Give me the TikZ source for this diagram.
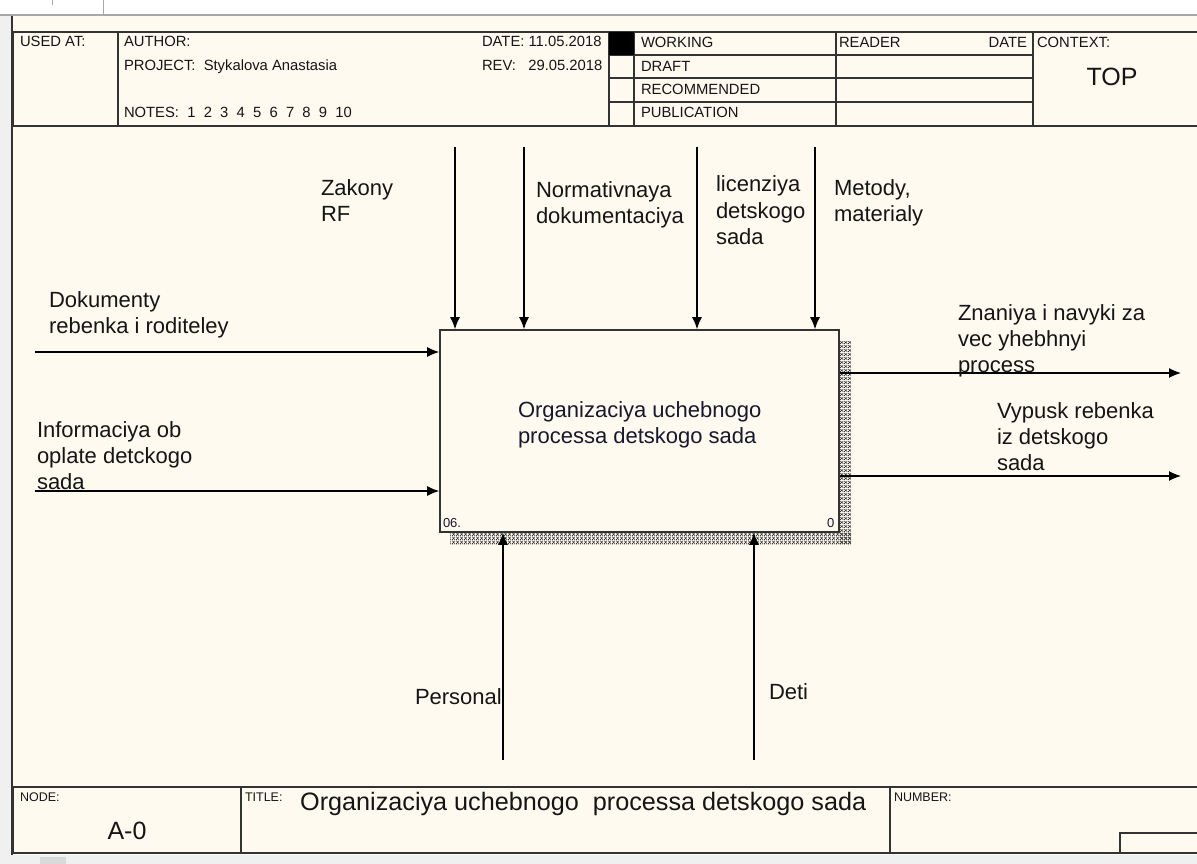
\documentclass[tikz,border=0pt]{standalone}
\usepackage{fontspec}
\setmainfont{Liberation Sans}
\usetikzlibrary{arrows.meta,patterns}
\definecolor{cream}{HTML}{FFFAF0}
\definecolor{chrome}{HTML}{F0F0F0}
\definecolor{chromeline}{HTML}{A8A8A8}
\definecolor{framec}{HTML}{333333}
\definecolor{txt}{HTML}{151515}
\definecolor{boxtxt}{HTML}{18182C}
\pgfdeclarepatternformonly{idefhatch}{\pgfpointorigin}{\pgfpoint{4pt}{4pt}}{\pgfpoint{4pt}{4pt}}{%
  \pgfpathrectangle{\pgfpoint{0pt}{0pt}}{\pgfpoint{1pt}{1pt}}%
  \pgfpathrectangle{\pgfpoint{1pt}{1pt}}{\pgfpoint{1pt}{1pt}}%
  \pgfpathrectangle{\pgfpoint{2pt}{2pt}}{\pgfpoint{1pt}{1pt}}%
  \pgfpathrectangle{\pgfpoint{3pt}{3pt}}{\pgfpoint{1pt}{1pt}}%
  \pgfpathrectangle{\pgfpoint{0pt}{3pt}}{\pgfpoint{1pt}{1pt}}%
  \pgfpathrectangle{\pgfpoint{1pt}{2pt}}{\pgfpoint{1pt}{1pt}}%
  \pgfpathrectangle{\pgfpoint{2pt}{1pt}}{\pgfpoint{1pt}{1pt}}%
  \pgfpathrectangle{\pgfpoint{3pt}{0pt}}{\pgfpoint{1pt}{1pt}}%
  \pgfusepath{fill}}
\newcommand\lblfont{\fontsize{22}{26}\selectfont}
\newcommand\hdrfont{\fontsize{14.8}{17}\selectfont}
\newcommand\smallfont{\fontsize{12.5}{14}\selectfont}
\newcommand\reffont{\fontsize{13}{15}\selectfont}
\newcommand\bigfont{\fontsize{25}{29}\selectfont}
\newcommand\titlefont{\fontsize{25.2}{29}\selectfont}
\newcommand\ml[1]{\begin{tabular}[t]{@{}l@{}}#1\end{tabular}}
\begin{document}
\begin{tikzpicture}[x=1pt,y=-1pt,
  frameline/.style={draw=framec,line width=1.6pt},
  cellline/.style={draw=framec,line width=1.4pt},
  arr/.style={draw=black,line width=1.3pt,-{Latex[length=12pt,width=10pt]}},
  lbl/.style={anchor=base west,inner sep=0pt,outer sep=0pt,font=\lblfont,text=txt},
  hdr/.style={anchor=base west,inner sep=0pt,outer sep=0pt,font=\hdrfont,text=txt},
  tinylbl/.style={anchor=base west,inner sep=0pt,outer sep=0pt,font=\smallfont,text=txt},
  reflbl/.style={anchor=base west,inner sep=0pt,outer sep=0pt,font=\reffont,text=boxtxt},
  shadow/.style={pattern=idefhatch,pattern color=black!80}]
\useasboundingbox (0,0) rectangle (1197,864);
% window chrome and sheet
\fill[chrome] (0,0) rectangle (1197,864);
\fill[white] (0,0) rectangle (1197,14);
\fill[cream] (11,16) rectangle (1197,855);
\draw[chromeline,line width=1.5pt] (0,15) -- (1197,15);
\draw[chromeline,line width=1pt] (52,0) -- (52,5);
\draw[chromeline,line width=1pt] (103,0) -- (103,14);
\fill[black!15] (40,857) rectangle (66,864);
\draw[frameline] (12,16) -- (12,855);
% header
\draw[frameline] (13,32) rectangle (1205,126);
\draw[cellline] (118,32) -- (118,126);
\draw[cellline] (609,32) -- (609,126);
\draw[cellline] (634,32) -- (634,126);
\draw[cellline] (836,32) -- (836,126);
\draw[cellline] (1033,32) -- (1033,126);
\draw[cellline] (609,55) -- (1033,55);
\draw[cellline] (609,78) -- (1033,78);
\draw[cellline] (609,102) -- (1033,102);
\fill[black] (609,32) rectangle (634,55);
\node[hdr] (usedat) at (20,47) {USED AT:};
\node[hdr] (author) at (124,47) {AUTHOR:};
\node[hdr] (project) at (124,71) {PROJECT:\ \ Stykalova Anastasia};
\node[hdr] (notes) at (124,118) {NOTES:\ \ 1\ \ 2\ \ 3\ \ 4\ \ 5\ \ 6\ \ 7\ \ 8\ \ 9\ \ 10};
\node[hdr] (date) at (482,47) {DATE:\ 11.05.2018};
\node[hdr] (rev) at (482,71) {REV:\ \ \ 29.05.2018};
\node[hdr] (working) at (641,48) {WORKING};
\node[hdr] (draft) at (641,72) {DRAFT};
\node[hdr] (recommended) at (641,95) {RECOMMENDED};
\node[hdr] (publication) at (641,118) {PUBLICATION};
\node[hdr] (reader) at (839,48) {READER};
\node[hdr,anchor=base east] (rdate) at (1027,48) {DATE};
\node[hdr] (context) at (1037,48) {CONTEXT:};
\node[anchor=base,inner sep=0pt,font=\bigfont,text=txt] (top) at (1112,86) {TOP};
% footer
\draw[frameline] (13,787) rectangle (1205,853);
\draw[cellline] (241,787) -- (241,853);
\draw[cellline] (890,787) -- (890,853);
\draw[cellline] (1205,833) -- (1120,833) -- (1120,853);
\node[tinylbl] (nodelbl) at (20,801) {NODE:};
\node[tinylbl] (titlelbl) at (245,801) {TITLE:};
\node[tinylbl] (numberlbl) at (894,801) {NUMBER:};
\node[anchor=base,inner sep=0pt,font=\bigfont,text=txt] (nodeid) at (127,839) {A-0};
\node[anchor=base west,inner sep=0pt,font=\titlefont,text=txt] (title) at (300,810) {Organizaciya uchebnogo\ \ processa detskogo sada};
% activity box
\fill[shadow] (839,341) rectangle (851,544);
\fill[shadow] (450,532) rectangle (851,544);
\node[draw=framec,line width=1.6pt,fill=cream,minimum width=399pt,minimum height=202pt,inner sep=0pt] (A0) at (639.5,431) {};
\node[lbl,text=boxtxt] (A0text) at (518,417) {\ml{Organizaciya uchebnogo\\processa detskogo sada}};
\node[reflbl] (A0ref) at (443,527) {06.};
\node[reflbl] (A0num) at (827,527) {0};
% controls
\coordinate (c1) at (455,147);
\coordinate (c2) at (524,147);
\coordinate (c3) at (697,147);
\coordinate (c4) at (815,147);
\draw[arr] (c1) -- (c1 |- A0.north);
\draw[arr] (c2) -- (c2 |- A0.north);
\draw[arr] (c3) -- (c3 |- A0.north);
\draw[arr] (c4) -- (c4 |- A0.north);
\node[lbl] (lc1) at (321,195) {\ml{Zakony\\RF}};
\node[lbl] (lc2) at (536,197) {\ml{Normativnaya\\dokumentaciya}};
\node[lbl] (lc3) at (716,192) {\ml{licenziya\\detskogo\\sada}};
\node[lbl] (lc4) at (834,195) {\ml{Metody,\\materialy}};
% inputs
\coordinate (i1) at (35,352);
\coordinate (i2) at (35,491);
\draw[arr] (i1) -- (i1 -| A0.west);
\draw[arr] (i2) -- (i2 -| A0.west);
\node[lbl] (li1) at (49,307) {\ml{Dokumenty\\rebenka i roditeley}};
\node[lbl] (li2) at (37,437) {\ml{Informaciya ob\\oplate detckogo\\sada}};
% outputs
\coordinate (o1) at (1181,373);
\coordinate (o2) at (1181,476);
\draw[arr] (o1 -| A0.east) -- (o1);
\draw[arr] (o2 -| A0.east) -- (o2);
\node[lbl] (lo1) at (958,320) {\ml{Znaniya i navyki za\\vec yhebhnyi\\process}};
\node[lbl] (lo2) at (997,418) {\ml{Vypusk rebenka\\iz detskogo\\sada}};
% mechanisms
\coordinate (m1) at (503,760);
\coordinate (m2) at (754,760);
\draw[arr] (m1) -- (m1 |- A0.south);
\draw[arr] (m2) -- (m2 |- A0.south);
\node[lbl] (lm1) at (415,704) {Personal};
\node[lbl] (lm2) at (769,699) {Deti};
\end{tikzpicture}
\end{document}
